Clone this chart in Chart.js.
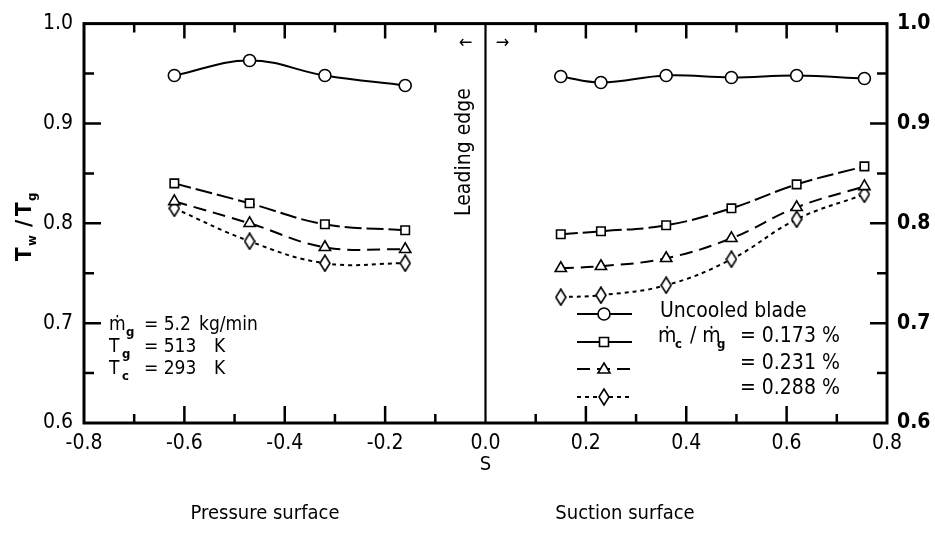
<!DOCTYPE html>
<html>
<head>
<meta charset="utf-8">
<script src="https://cdn.jsdelivr.net/npm/chart.js@4.4.1/dist/chart.umd.min.js"></script>
<style>
  html, body { margin: 0; padding: 0; background: #fff; }
  #wrap { width: 935px; height: 534px; }
</style>
</head>
<body>
<div id="wrap"><canvas id="twChart" width="935" height="534"></canvas></div>
<script>
// data (S along the blade surface, Tw/Tg)
var sPressure = [-0.62, -0.47, -0.32, -0.16];
var sSuction = [0.15, 0.23, 0.36, 0.49, 0.62, 0.755];

var uncooledPressure = [0.948, 0.963, 0.948, 0.938];
var uncooledSuction = [0.947, 0.941, 0.948, 0.946, 0.948, 0.945];
var mc173Pressure = [0.840, 0.820, 0.799, 0.793];
var mc173Suction = [0.789, 0.792, 0.798, 0.815, 0.839, 0.857];
var mc231Pressure = [0.822, 0.800, 0.776, 0.774];
var mc231Suction = [0.755, 0.757, 0.765, 0.785, 0.816, 0.837];
var mc288Pressure = [0.815, 0.782, 0.760, 0.760];
var mc288Suction = [0.726, 0.728, 0.738, 0.764, 0.804, 0.829];

var xMin = -0.8, xMax = 0.8;
var yMin = 0.6, yMax = 1.0;

var FONT = "'DejaVu Sans Condensed', 'Liberation Sans Narrow', sans-serif";

// tall diamond marker (the figure's diamonds are taller than wide)
function makeDiamond() {
    var c = document.createElement('canvas');
    c.width = 12; c.height = 18;
    var g = c.getContext('2d');
    g.beginPath();
    g.moveTo(6, 1); g.lineTo(11, 9); g.lineTo(6, 17); g.lineTo(1, 9); g.closePath();
    g.fillStyle = '#fff'; g.fill();
    g.lineWidth = 1.6; g.strokeStyle = '#000'; g.stroke();
    return c;
}
var diamondImg = makeDiamond();

function pts(xs, ys) {
    return xs.map(function (x, i) { return { x: x, y: ys[i] }; });
}

var series = [
    { name: 'Uncooled blade', p: uncooledPressure, s: uncooledSuction, dash: [], marker: 'circle', r: 6 },
    { name: '0.173 %', p: mc173Pressure, s: mc173Suction, dash: [17, 5], marker: 'rect', r: 6 },
    { name: '0.231 %', p: mc231Pressure, s: mc231Suction, dash: [13, 7], marker: 'triangle', r: 6.5 },
    { name: '0.288 %', p: mc288Pressure, s: mc288Suction, dash: [4, 4], marker: diamondImg, r: 7 }
];

var datasets = [];
series.forEach(function (sr) {
    [pts(sPressure, sr.p), pts(sSuction, sr.s)].forEach(function (d) {
        datasets.push({
            label: sr.name,
            data: d,
            borderColor: '#000',
            borderWidth: 2,
            borderDash: sr.dash,
            tension: 0.4,
            fill: false,
            pointStyle: sr.marker,
            pointRadius: sr.r,
            pointBorderWidth: 1.6,
            pointBorderColor: '#000',
            pointBackgroundColor: '#fff'
        });
    });
});

var TXT = '21px ' + FONT;
var NOTE = '19px ' + FONT;
var SUB = 'bold 13px ' + FONT;

// draw text pieces at fixed x positions; sub pieces drop below the line
function pieces(ctx, list, y) {
    list.forEach(function (p) {
        ctx.font = p.sub ? SUB : (p.font || TXT);
        ctx.fillText(p.t, p.x, p.sub ? y + 8 : y);
    });
}

function legendMarker(ctx, kind, x, y) {
    ctx.save();
    ctx.setLineDash([]);
    ctx.lineWidth = 1.6;
    ctx.fillStyle = '#fff';
    ctx.strokeStyle = '#000';
    ctx.beginPath();
    if (kind === 'circle') {
        ctx.arc(x, y, 6, 0, Math.PI * 2);
    } else if (kind === 'rect') {
        ctx.rect(x - 4.5, y - 4.5, 9, 9);
    } else if (kind === 'triangle') {
        ctx.moveTo(x, y - 6); ctx.lineTo(x + 6, y + 4); ctx.lineTo(x - 6, y + 4); ctx.closePath();
    } else {
        ctx.moveTo(x, y - 8); ctx.lineTo(x + 5, y); ctx.lineTo(x, y + 8); ctx.lineTo(x - 5, y); ctx.closePath();
    }
    ctx.fill();
    ctx.stroke();
    ctx.restore();
}

var paperPlugin = {
    id: 'paperPlugin',
    afterDraw: function (chart) {
        var ctx = chart.ctx;
        var a = chart.chartArea;
        var xs = chart.scales.x, ys = chart.scales.y;
        ctx.save();
        ctx.strokeStyle = '#000';
        ctx.fillStyle = '#000';

        // frame
        ctx.lineWidth = 3;
        ctx.strokeRect(a.left, a.top, a.right - a.left, a.bottom - a.top);

        // leading edge line
        var x0 = xs.getPixelForValue(0);
        ctx.lineWidth = 2.2;
        ctx.beginPath(); ctx.moveTo(x0, a.top); ctx.lineTo(x0, a.bottom); ctx.stroke();

        // inward ticks, major + minor
        ctx.lineWidth = 2.5;
        ctx.beginPath();
        for (var i = -7; i <= 7; i++) {
            if (i === 0) continue;
            var px = xs.getPixelForValue(i / 10);
            var major = (i % 2 === 0);
            ctx.moveTo(px, a.bottom); ctx.lineTo(px, a.bottom - (major ? 17 : 9));
            ctx.moveTo(px, a.top); ctx.lineTo(px, a.top + (major ? 15 : 9));
        }
        for (var j = 13; j <= 19; j++) {
            var py = ys.getPixelForValue(j / 20);
            var len = (j % 2 === 0) ? 17 : 10;
            ctx.moveTo(a.left, py); ctx.lineTo(a.left + len, py);
            ctx.moveTo(a.right, py); ctx.lineTo(a.right - len, py);
        }
        ctx.stroke();

        // arrows near the leading edge
        ctx.font = '18px ' + FONT;
        ctx.textAlign = 'center';
        ctx.textBaseline = 'middle';
        ctx.fillText('\u2190', x0 - 20, 43);
        ctx.fillText('\u2192', x0 + 17, 43);

        // "Leading edge"
        ctx.save();
        ctx.translate(x0 - 21, 152);
        ctx.rotate(-Math.PI / 2);
        ctx.font = '21px ' + FONT;
        ctx.fillText('Leading edge', 0, 0);
        ctx.restore();

        // y axis title  Tw / Tg
        ctx.save();
        ctx.translate(25, 217);
        ctx.rotate(-Math.PI / 2);
        ctx.textAlign = 'left';
        var bf = 'bold 22px ' + FONT;
        pieces(ctx, [
            { t: 'T', x: -44, font: bf }, { t: 'w', x: -29, sub: true },
            { t: '/', x: -10, font: bf }, { t: 'T', x: 1, font: bf }, { t: 'g', x: 16, sub: true }
        ], 0);
        ctx.restore();

        // operating conditions
        ctx.textAlign = 'left';
        pieces(ctx, [{ t: '\u1E41', x: 109, font: NOTE }, { t: 'g', x: 126, sub: true },
            { t: '= 5.2', x: 144, font: NOTE }, { t: 'kg/min', x: 199, font: NOTE }], 325);
        pieces(ctx, [{ t: 'T', x: 109, font: NOTE }, { t: 'g', x: 122, sub: true },
            { t: '= 513', x: 144, font: NOTE }, { t: 'K', x: 214, font: NOTE }], 347);
        pieces(ctx, [{ t: 'T', x: 109, font: NOTE }, { t: 'c', x: 122, sub: true },
            { t: '= 293', x: 144, font: NOTE }, { t: 'K', x: 214, font: NOTE }], 369);

        // legend
        var rows = [314, 342, 369, 397];
        series.forEach(function (sr, k) {
            var y = rows[k];
            ctx.save();
            ctx.lineWidth = 2;
            ctx.setLineDash(k === 2 ? [13, 7] : (k === 3 ? [4, 4] : []));
            ctx.beginPath(); ctx.moveTo(577, y); ctx.lineTo(632, y); ctx.stroke();
            ctx.restore();
            legendMarker(ctx, ['circle', 'rect', 'triangle', 'diamond'][k], 604, y);
        });
        pieces(ctx, [{ t: 'Uncooled blade', x: 660 }], 312);
        pieces(ctx, [{ t: '\u1E41', x: 658 }, { t: 'c', x: 675, sub: true }, { t: '/ \u1E41', x: 690 },
            { t: 'g', x: 717, sub: true }, { t: '= 0.173 %', x: 740 }], 337);
        pieces(ctx, [{ t: '= 0.231 %', x: 740 }], 364);
        pieces(ctx, [{ t: '= 0.288 %', x: 740 }], 389);

        // bottom texts
        ctx.textAlign = 'center';
        ctx.font = '20px ' + FONT;
        ctx.fillText('S', x0, 465);
        ctx.fillText('Pressure surface', 265, 514);
        ctx.fillText('Suction surface', 625, 514);

        ctx.restore();
    }
};

var ctx = document.getElementById('twChart').getContext('2d');
var twChart = new Chart(ctx, {
    type: 'line',
    data: { datasets: datasets },
    options: {
        responsive: false,
        animation: false,
        events: [],
        layout: { padding: { top: 21, left: 0, right: 0, bottom: 0 } },
        plugins: {
            legend: { display: false },
            tooltip: { enabled: false }
        },
        scales: {
            x: {
                type: 'linear',
                min: xMin,
                max: xMax,
                grid: { display: false, drawTicks: false },
                border: { display: false },
                afterFit: function (s) { s.height = 534 - 423; },
                ticks: {
                    stepSize: 0.2,
                    padding: 8,
                    color: '#000',
                    font: { family: FONT, size: 21 },
                    callback: function (v) { return Number(v).toFixed(1); }
                }
            },
            y: {
                type: 'linear',
                position: 'left',
                min: yMin,
                max: yMax,
                grid: { display: false, drawTicks: false },
                border: { display: false },
                afterFit: function (s) { s.width = 84; },
                ticks: {
                    stepSize: 0.1,
                    padding: 11,
                    color: '#000',
                    font: { family: FONT, size: 21 },
                    callback: function (v) { return Number(v).toFixed(1); }
                }
            },
            y2: {
                type: 'linear',
                position: 'right',
                min: yMin,
                max: yMax,
                grid: { display: false, drawTicks: false },
                border: { display: false },
                afterFit: function (s) { s.width = 935 - 887; },
                ticks: {
                    stepSize: 0.1,
                    padding: 10,
                    color: '#000',
                    font: { family: FONT, size: 21, weight: 'bold' },
                    callback: function (v) { return Number(v).toFixed(1); }
                }
            }
        }
    },
    plugins: [paperPlugin]
});
</script>
</body>
</html>
